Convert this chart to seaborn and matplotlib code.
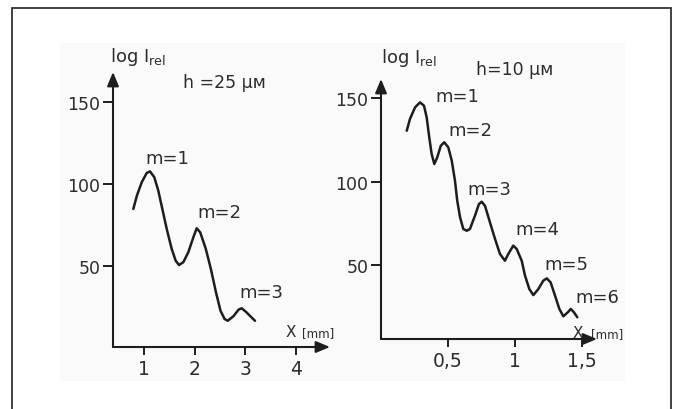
import matplotlib
matplotlib.use("Agg")
import matplotlib.pyplot as plt
from matplotlib.patches import Rectangle
import seaborn as sns

# Relative intensity (log scale) along x for slit height h = 25 μм
x_25 = [0.79, 0.86, 0.955, 1.054, 1.119, 1.204, 1.283, 1.362, 1.449, 1.547,
        1.626, 1.691, 1.776, 1.875, 1.974, 2.04, 2.11, 2.22, 2.32, 2.42,
        2.51, 2.59, 2.652, 2.763, 2.87, 2.93, 3.02, 3.12, 3.19]
y_25 = [84.8, 92.9, 101.0, 106.7, 107.7, 104.1, 95.9, 84.8, 72.6, 60.4,
        53.2, 50.6, 52.3, 58.4, 67.5, 73.0, 70.5, 60.4, 48.2, 34.0,
        22.7, 17.7, 16.6, 19.3, 23.5, 24.2, 21.8, 18.7, 16.6]

# Relative intensity (log scale) along x for slit height h = 10 μм
x_10 = [0.192, 0.216, 0.254, 0.291, 0.321, 0.341, 0.360, 0.378, 0.398, 0.420,
        0.446, 0.472, 0.502, 0.528, 0.552, 0.569, 0.590, 0.614, 0.640, 0.664,
        0.701, 0.731, 0.751, 0.776, 0.813, 0.851, 0.888, 0.925, 0.950, 0.987,
        1.013, 1.050, 1.075, 1.107, 1.137, 1.174, 1.211, 1.237, 1.266, 1.299,
        1.331, 1.361, 1.398, 1.416, 1.440, 1.465]
y_10 = [130.4, 137.4, 144.4, 147.4, 145.4, 138.4, 126.5, 116.5, 110.5, 114.5,
        121.4, 123.5, 120.5, 112.5, 100.5, 88.5, 78.6, 71.6, 70.5, 71.6,
        79.5, 86.5, 87.9, 85.5, 75.6, 65.6, 56.6, 52.6, 56.6, 61.6,
        59.6, 52.6, 43.6, 35.6, 32.0, 35.6, 40.6, 42.0, 39.6, 31.6,
        23.7, 19.3, 22.0, 23.7, 21.7, 18.7]

# Diffraction order labels and their anchors
orders_25 = ["m=1", "m=2", "m=3"]
order_x_25 = [1.47, 2.48, 3.31]
order_y_25 = [112.8, 79.7, 30.9]

orders_10 = ["m=1", "m=2", "m=3", "m=4", "m=5", "m=6"]
order_x_10 = [0.570, 0.664, 0.806, 1.169, 1.383, 1.612]
order_y_10 = [148.4, 127.8, 92.5, 68.6, 47.6, 27.7]

# Tick values and labels
xticks_25 = [1, 2, 3, 4]
xticklabels_25 = ["1", "2", "3", "4"]
xticks_10 = [0.5, 1, 1.5]
xticklabels_10 = ["0,5", "1", "1,5"]
yticks = [50, 100, 150]
yticklabels = ["50", "100", "150"]

titles = ["h =25 μм", "h=10 μм"]

sns.set_theme(style="white")
plt.rcParams["font.family"] = ["DejaVu Sans"]
plt.rcParams["mathtext.fontset"] = "dejavusans"

INK = "#1d1d1d"
TXT = "#2c2c2c"
W, H = 679, 410

fig = plt.figure(figsize=(W / 100, H / 100), dpi=100)
fig.patch.set_facecolor("white")

# faint backdrop behind both panels and outer frame
fig.patches.append(Rectangle((60 / W, 1 - 382 / H), (625 - 60) / W, (382 - 44) / H,
                             transform=fig.transFigure, facecolor="#fafafa",
                             edgecolor="none", zorder=-2))
fig.patches.append(Rectangle((12 / W, -0.1), (671 - 12) / W, 1.1 - 9 / H,
                             transform=fig.transFigure, fill=False,
                             edgecolor="#333333", lw=1.3, zorder=-1, clip_on=False))

ax1 = fig.add_axes([113 / W, 1 - 348 / H, 217 / W, 275 / H])
ax2 = fig.add_axes([381 / W, 1 - 340 / H, 216 / W, 260 / H])
ax1.set_xlim(0.389, 4.67)
ax1.set_ylim(0.6, 168.3)
ax2.set_xlim(0.0, 1.612)
ax2.set_ylim(5.7, 161.4)

line_kw = dict(color=INK, lw=1.8, sort=False, estimator=None,
               solid_joinstyle="round", solid_capstyle="round")
sns.lineplot(x=x_25, y=y_25, ax=ax1, **line_kw)
sns.lineplot(x=x_10, y=y_10, ax=ax2, **line_kw)

arrow = dict(arrowstyle="-|>,head_length=0.6,head_width=0.25", lw=1.5,
             color=INK, mutation_scale=14, shrinkA=0, shrinkB=0)

for ax, xt, xtl in [(ax1, xticks_25, xticklabels_25), (ax2, xticks_10, xticklabels_10)]:
    ax.set_facecolor("none")
    for s in ax.spines.values():
        s.set_visible(False)
    ax.annotate("", xy=(1, 0), xytext=(0, 0), xycoords="axes fraction",
                textcoords="axes fraction", arrowprops=arrow)
    ax.annotate("", xy=(0, 1), xytext=(0, 0), xycoords="axes fraction",
                textcoords="axes fraction", arrowprops=arrow)
    ax.set_xticks(xt)
    ax.set_xticklabels(xtl)
    ax.set_yticks(yticks)
    ax.set_yticklabels(yticklabels)
    ax.tick_params(axis="x", bottom=True, direction="out", length=6, width=1.4,
                   color=INK, labelsize=13.5, labelcolor=TXT, pad=3)
    ax.tick_params(axis="y", left=True, direction="out", length=7, width=1.4,
                   color=INK, labelsize=12.5, labelcolor=TXT, pad=2)
    ax.grid(False)
    ax.set_xlabel("")
    ax.set_ylabel("")

for lab, x, y in zip(orders_25, order_x_25, order_y_25):
    ax1.text(x, y, lab, ha="center", va="baseline", fontsize=13, color=TXT)
for lab, x, y in zip(orders_10, order_x_10, order_y_10):
    ax2.text(x, y, lab, ha="center", va="baseline", fontsize=13, color=TXT)

# slit heights
ax1.text(1.77, 159.1, titles[0], ha="left", va="baseline", fontsize=12.5, color=TXT)
ax2.text(0.707, 164.4, titles[1], ha="left", va="baseline", fontsize=12.5, color=TXT)

# axis names
ax1.text(0.33, 175, r"log I$_{\mathrm{rel}}$", ha="left", va="baseline", fontsize=13, color=TXT)
ax2.text(0.0, 171.4, r"log I$_{\mathrm{rel}}$", ha="left", va="baseline", fontsize=13, color=TXT)
ax1.text(3.80, 7.5, "X", ha="left", va="baseline", fontsize=11, color=TXT)
ax1.text(4.12, 7.5, "[mm]", ha="left", va="baseline", fontsize=8.5, color=TXT)
ax2.text(1.428, 6.9, "X", ha="left", va="baseline", fontsize=11, color=TXT)
ax2.text(1.564, 6.9, "[mm]", ha="left", va="baseline", fontsize=8.5, color=TXT)

fig.savefig("out.png", dpi=100, facecolor="white")
